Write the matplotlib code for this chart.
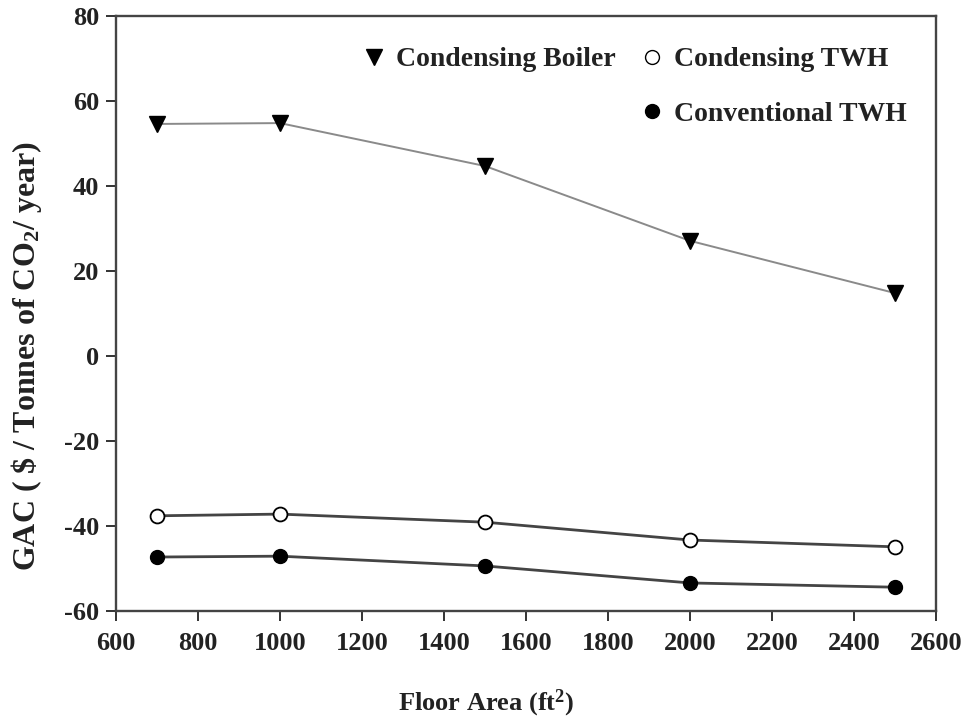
import matplotlib
matplotlib.use("Agg")
import matplotlib.pyplot as plt
from matplotlib.lines import Line2D

plt.rcParams['font.family'] = ['Liberation Serif', 'DejaVu Serif']
plt.rcParams['font.weight'] = 'bold'
plt.rcParams['axes.unicode_minus'] = False
plt.rcParams['mathtext.fontset'] = 'custom'
plt.rcParams['mathtext.rm'] = 'Liberation Serif:bold'
plt.rcParams['mathtext.it'] = 'Liberation Serif:bold'
plt.rcParams['mathtext.bf'] = 'Liberation Serif:bold'

floor_area = [700, 1000, 1500, 2000, 2500]
condensing_boiler = [54.6, 54.8, 44.7, 27.1, 14.8]
condensing_twh = [-37.6, -37.2, -39.1, -43.3, -44.9]
conventional_twh = [-47.3, -47.1, -49.4, -53.4, -54.4]
x_ticks = [600, 800, 1000, 1200, 1400, 1600, 1800, 2000, 2200, 2400, 2600]
y_ticks = [-60, -40, -20, 0, 20, 40, 60, 80]

fig = plt.figure(figsize=(9.61, 7.23), dpi=100)
ax = fig.add_axes([116/961, 1-611/723, (936-116)/961, (611-16)/723])

ax.plot(floor_area, condensing_boiler, color='#8a8a8a', lw=1.4, marker='v',
        ms=11, mfc='black', mec='black', label='Condensing Boiler')
ax.plot(floor_area, condensing_twh, color='#444444', lw=2.0, marker='o',
        ms=10, mfc='white', mec='black', mew=1.3, label='Condensing TWH')
ax.plot(floor_area, conventional_twh, color='#444444', lw=2.0, marker='o',
        ms=10, mfc='black', mec='black', label='Conventional TWH')

ax.set_xlim(600, 2600)
ax.set_ylim(-60, 80)
ax.set_xticks(x_ticks)
ax.set_yticks(y_ticks)
ax.tick_params(axis='both', labelsize=19, length=7, width=1.4, direction='out',
               colors='#333333', labelcolor='#222222')
ax.tick_params(axis='x', pad=8)
ax.tick_params(axis='y', pad=5)
for s in ax.spines.values():
    s.set_linewidth(1.7)
    s.set_color('#444444')
for lab in ax.get_xticklabels() + ax.get_yticklabels():
    lab.set_fontweight('bold')

fig.text(486/961, 1-703/723, 'Floor Area (ft$^2$)', fontsize=19, fontweight='bold',
         color='#222222', ha='center', va='center')
fig.text(27/961, 1-356/723, 'GAC ( \\$ / Tonnes of CO$_2$/ year)', fontsize=23,
         fontweight='bold', color='#222222', ha='center', va='center', rotation=90)

h1 = Line2D([], [], ls='none', marker='v', ms=11, mfc='black', mec='black')
h2 = Line2D([], [], ls='none', marker='o', ms=10, mfc='white', mec='black')
h3 = Line2D([], [], ls='none', marker='o', ms=10, mfc='black', mec='black')
blank = Line2D([], [], ls='none', marker=None)
leg = ax.legend([h1, blank, h2, h3], ['Condensing Boiler', '', 'Condensing TWH', 'Conventional TWH'],
                ncol=2, frameon=False, loc='upper right',
                bbox_to_anchor=((907-116)/820, (611-47)/595),
                borderaxespad=0, borderpad=0,
                prop={'family': 'Liberation Serif', 'weight': 'bold', 'size': 20},
                handlelength=0.8, handletextpad=0.4, columnspacing=0.9, labelspacing=1.05)
for t in leg.get_texts():
    t.set_color('#222222')

fig.savefig('out.png', dpi=100)
